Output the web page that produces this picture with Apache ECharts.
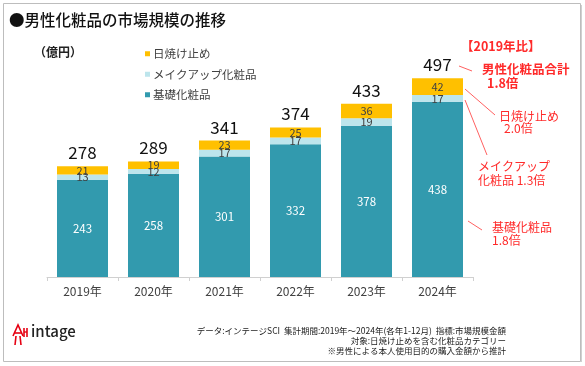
<!DOCTYPE html>
<html><head><meta charset="utf-8">
<script src="https://cdn.jsdelivr.net/npm/echarts@6/dist/echarts.min.js"></script>
<style>html,body{margin:0;padding:0;background:#fff}#c{width:585px;height:366px}</style>
</head><body><div id="c"></div>
<script>
var categories = ['2019年','2020年','2021年','2022年','2023年','2024年'];
var basic = [243, 258, 301, 332, 378, 438];
var makeup = [13, 12, 17, 17, 19, 17];
var sunscreen = [21, 19, 23, 25, 36, 42];
var totals = [278, 289, 341, 374, 433, 497];
var seriesNames = ['基礎化粧品', 'メイクアップ化粧品', '日焼け止め'];

var F = "'Noto Sans CJK JP','Noto Sans',sans-serif";
var red = '#ff2a2a';
var chart = echarts.init(document.getElementById('c'), null, {renderer:'canvas'});
var zeros = totals.map(function(){return 0;});
chart.setOption({
  animation:false,
  textStyle:{fontFamily:F},
  grid:{left:47,right:112,top:77,bottom:89},
  legend:{
    orient:'vertical', left:140, top:43, itemWidth:5, itemHeight:5, itemGap:9, icon:'rect',
    data:['日焼け止め','メイクアップ化粧品','基礎化粧品'],
    textStyle:{fontFamily:F,fontSize:11.5,color:'#404040',padding:[0,0,0,-2]}
  },
  xAxis:{
    type:'category', data:categories,
    axisLine:{lineStyle:{color:'#d0d0d0',width:1}},
    axisTick:{show:true,length:4,lineStyle:{color:'#d0d0d0'}},
    axisLabel:{fontFamily:F,fontSize:12,color:'#404040',margin:8}
  },
  yAxis:{type:'value',min:0,max:500,show:false,splitLine:{show:false}},
  series:[
    {name:seriesNames[0],type:'bar',stack:'a',data:basic,barWidth:51,
     itemStyle:{color:'#329aae'},
     label:{show:true,position:'inside',color:'#fff',fontSize:11.5,fontFamily:F}},
    {name:seriesNames[1],type:'bar',stack:'a',data:makeup,barWidth:51,
     itemStyle:{color:'#bde5ec'},
     label:{show:true,position:'inside',color:'#404040',fontSize:11,fontFamily:F}},
    {name:seriesNames[2],type:'bar',stack:'a',data:sunscreen,barWidth:51,
     itemStyle:{color:'#ffc000'},
     label:{show:true,position:'inside',color:'#404040',fontSize:11,fontFamily:F}},
    {name:'total',type:'bar',stack:'a',data:zeros,barWidth:51,
     itemStyle:{color:'transparent'},
     label:{show:true,position:'top',distance:5,color:'#111',fontSize:17,fontFamily:F,
       formatter:function(p){return totals[p.dataIndex];}}}
  ],
  graphic:[
    {type:'rect',shape:{x:3.5,y:3.5,width:577,height:358},style:{fill:'none',stroke:'#bdbdbd',lineWidth:1},z:-1},
    {type:'line',shape:{x1:581.5,y1:5,x2:581.5,y2:362},style:{stroke:'#d0d0d0',lineWidth:1}},
    {type:'text',left:9,top:12,style:{text:'●男性化粧品の市場規模の推移',font:'500 15.5px '+F,fill:'#111'}},
    {type:'text',left:34,top:46,style:{text:'（億円）',font:'bold 12px '+F,fill:'#222'}},
    {type:'text',left:461,top:40,style:{text:'【2019年比】',font:'bold 12.5px '+F,fill:red}},
    {type:'text',left:482,top:63,style:{text:'男性化粧品合計',font:'bold 12.5px '+F,fill:red}},
    {type:'text',left:487,top:77,style:{text:'1.8倍',font:'bold 12.5px '+F,fill:red}},
    {type:'text',left:499,top:110,style:{text:'日焼け止め',font:'12px '+F,fill:red}},
    {type:'text',left:504,top:122,style:{text:'2.0倍',font:'12px '+F,fill:red}},
    {type:'text',left:478,top:160,style:{text:'メイクアップ',font:'12px '+F,fill:red}},
    {type:'text',left:478,top:174,style:{text:'化粧品 1.3倍',font:'12px '+F,fill:red}},
    {type:'text',left:492,top:221,style:{text:'基礎化粧品',font:'12px '+F,fill:red}},
    {type:'text',left:492,top:234,style:{text:'1.8倍',font:'12px '+F,fill:red}},
    {type:'line',shape:{x1:459,y1:66,x2:472,y2:71},style:{stroke:'#ff6060',lineWidth:1}},
    {type:'line',shape:{x1:465,y1:89,x2:495,y2:115},style:{stroke:'#ff6060',lineWidth:1}},
    {type:'line',shape:{x1:465,y1:100,x2:487,y2:155},style:{stroke:'#ff6060',lineWidth:1}},
    {type:'line',shape:{x1:468,y1:221,x2:482,y2:230},style:{stroke:'#ff6060',lineWidth:1}},
    {type:'text',right:79,top:327,style:{text:'データ:インテージSCI  集計期間:2019年～2024年(各年1-12月)  指標:市場規模金額',font:'8.5px '+F,fill:'#222',textAlign:'right'}},
    {type:'text',right:79,top:337,style:{text:'対象:日焼け止めを含む化粧品カテゴリー',font:'8.5px '+F,fill:'#222',textAlign:'right'}},
    {type:'text',right:79,top:347,style:{text:'※男性による本人使用目的の購入金額から推計',font:'8.5px '+F,fill:'#222',textAlign:'right'}},
    {type:'polyline',shape:{points:[[13,336],[18,325],[23,336]]},style:{stroke:'#e60012',lineWidth:1.6,fill:'none'}},
    {type:'line',shape:{x1:14,y1:333,x2:22,y2:333},style:{stroke:'#e60012',lineWidth:1.6}},
    {type:'line',shape:{x1:16,y1:336,x2:15,y2:345},style:{stroke:'#e60012',lineWidth:1.6}},
    {type:'line',shape:{x1:20,y1:336,x2:21,y2:345},style:{stroke:'#e60012',lineWidth:1.6}},
    {type:'line',shape:{x1:24,y1:328,x2:24,y2:337},style:{stroke:'#e60012',lineWidth:1.6}},
    {type:'line',shape:{x1:27,y1:328,x2:27,y2:337},style:{stroke:'#e60012',lineWidth:1.6}},
    {type:'line',shape:{x1:24,y1:332,x2:27,y2:332},style:{stroke:'#e60012',lineWidth:1.4}},
    {type:'text',left:31,top:324,style:{text:'intage',font:'500 15px '+F,fill:'#222'}}
  ]
});
</script></body></html>
